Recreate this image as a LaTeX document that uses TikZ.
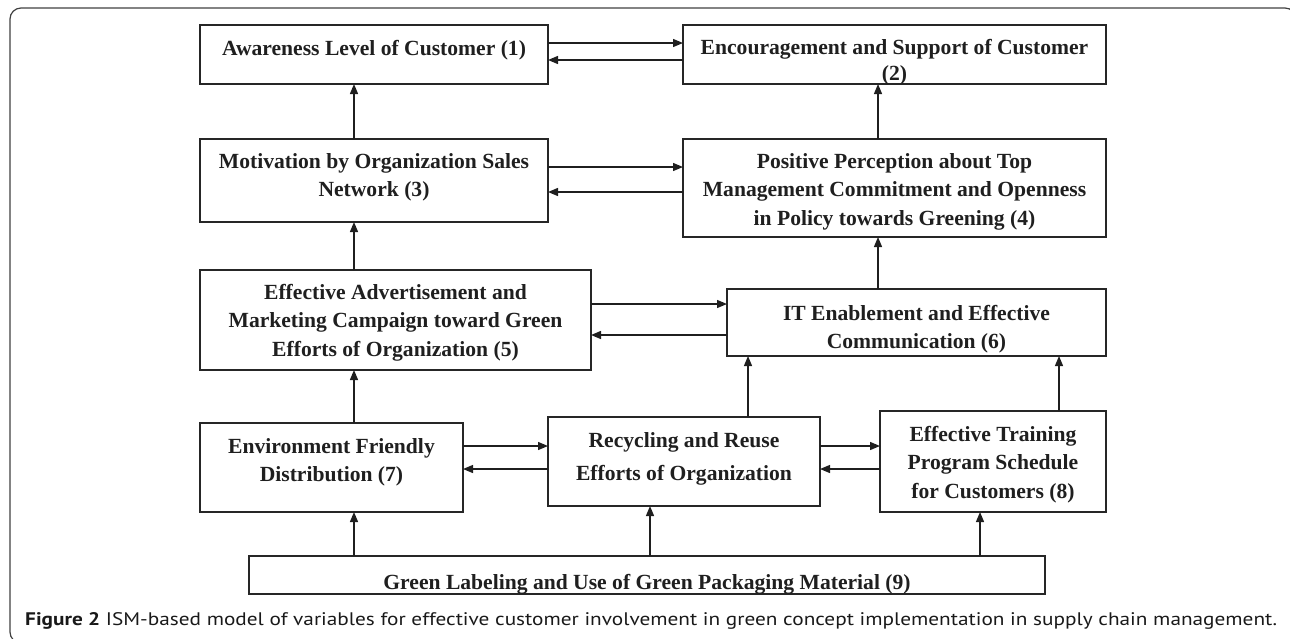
\documentclass[tikz,border=0pt]{standalone}
\usepackage{graphicx}
\usepackage{fontspec}
\setmainfont{Liberation Serif}
\newfontfamily\capfont{PT Sans}
\usetikzlibrary{arrows.meta}

\tikzset{
  ismbox/.style={draw=black!85, line width=1.3pt, inner sep=0pt, outer sep=0pt},
  ismtext/.style={anchor=north, inner sep=0pt, align=center,
    font=\bfseries\fontsize{21.6}{28.5}\selectfont, text=black!88},
  link/.style={draw=black!88, line width=1.3pt, -{Triangle[length=10pt,width=8pt]}},
  frame/.style={draw=black!75, line width=1.2pt, rounded corners=11pt}
}

% box from (x1,y1) to (x2,y2), y measured downwards
\newcommand\ismBox[5]{%
  \node[ismbox, minimum width={(#4-#2)*1pt}, minimum height={(#5-#3)*1pt}]
    (#1) at ({(#2+#4)/2},{(#3+#5)/2}) {};}
% label whose first baseline sits at y = #3
\newcommand\ismLabel[4]{%
  \node[ismtext] (#1) at (#2,{#3-16}) {\rule{0pt}{16pt}#4};}

\begin{document}
\begin{tikzpicture}[x=1pt,y=-1pt]
\useasboundingbox (0,0) rectangle (1290,638);

% outer frame
\draw[frame] (10,8) rectangle (1296,643);

% boxes
\ismBox{b1}{200}{25}{548}{84}
\ismBox{b2}{683}{25}{1106}{84}
\ismBox{b3}{200}{139}{548}{222}
\ismBox{b4}{683}{139}{1106}{237}
\ismBox{b5}{200}{270}{591}{370}
\ismBox{b6}{727}{289}{1106}{356}
\ismBox{b7}{200}{423}{463}{512}
\ismBox{brec}{548}{417}{820}{506}
\ismBox{b8}{880}{411}{1106}{512}
\ismBox{b9}{249}{556}{1045}{594}

% labels
\ismLabel{t1}{374}{55}{Awareness Level of Customer (1)}
\ismLabel{t2}{894.5}{54}{Encouragement and Support of Customer\\[-2.5pt](2)}
\ismLabel{t3}{374}{168}{Motivation by Organization Sales\\Network (3)}
\ismLabel{t4}{894.5}{168}{Positive Perception about Top\\Management Commitment and Openness\\in Policy towards Greening (4)}
\ismLabel{t5}{395.5}{299}{Effective Advertisement and\\Marketing Campaign toward Green\\Efforts of Organization (5)}
\ismLabel{t6}{916.5}{320}{IT Enablement and Effective\\Communication (6)}
\ismLabel{t7}{331.5}{453}{Environment Friendly\\Distribution (7)}
\ismLabel{trec}{684}{447}{Recycling and Reuse\\[5pt]Efforts of Organization}
\ismLabel{t8}{993}{441}{Effective Training\\Program Schedule\\for Customers (8)}
\ismLabel{t9}{647}{589}{Green Labeling and Use of Green Packaging Material (9)}

% lanes for the connectors
\coordinate (cA) at (354,0);
\coordinate (cB) at (878,0);
\coordinate (cC) at (748,0);
\coordinate (cD) at (1059,0);
\coordinate (cE) at (650,0);
\coordinate (cF) at (980,0);
\coordinate (r1a) at (0,43);  \coordinate (r1b) at (0,60);
\coordinate (r2a) at (0,167); \coordinate (r2b) at (0,192);
\coordinate (r3a) at (0,304); \coordinate (r3b) at (0,335);
\coordinate (r4a) at (0,446); \coordinate (r4b) at (0,469);

% two-way links
\draw[link] (b1.east |- r1a) -- (b2.west |- r1a);
\draw[link] (b2.west |- r1b) -- (b1.east |- r1b);
\draw[link] (b3.east |- r2a) -- (b4.west |- r2a);
\draw[link] (b4.west |- r2b) -- (b3.east |- r2b);
\draw[link] (b5.east |- r3a) -- (b6.west |- r3a);
\draw[link] (b6.west |- r3b) -- (b5.east |- r3b);
\draw[link] (b7.east |- r4a) -- (brec.west |- r4a);
\draw[link] (brec.west |- r4b) -- (b7.east |- r4b);
\draw[link] (brec.east |- r4a) -- (b8.west |- r4a);
\draw[link] (b8.west |- r4b) -- (brec.east |- r4b);

% upward links
\draw[link] (b3.north -| cA) -- (b1.south -| cA);
\draw[link] (b5.north -| cA) -- (b3.south -| cA);
\draw[link] (b7.north -| cA) -- (b5.south -| cA);
\draw[link] (b9.north -| cA) -- (b7.south -| cA);
\draw[link] (b4.north -| cB) -- (b2.south -| cB);
\draw[link] (b6.north -| cB) -- (b4.south -| cB);
\draw[link] (brec.north -| cC) -- (b6.south -| cC);
\draw[link] (b8.north -| cD) -- (b6.south -| cD);
\draw[link] (b9.north -| cE) -- (brec.south -| cE);
\draw[link] (b9.north -| cF) -- (b8.south -| cF);

% caption, set to the full text width
\node[anchor=base west, inner sep=0pt, font=\capfont\fontsize{18.2}{20}\selectfont, text=black!90]
  (cap) at (25,625) {\resizebox{1252pt}{\height}{\textbf{Figure 2} ISM-based model of variables for effective customer involvement in green concept implementation in supply chain management.}};
\end{tikzpicture}
\end{document}
